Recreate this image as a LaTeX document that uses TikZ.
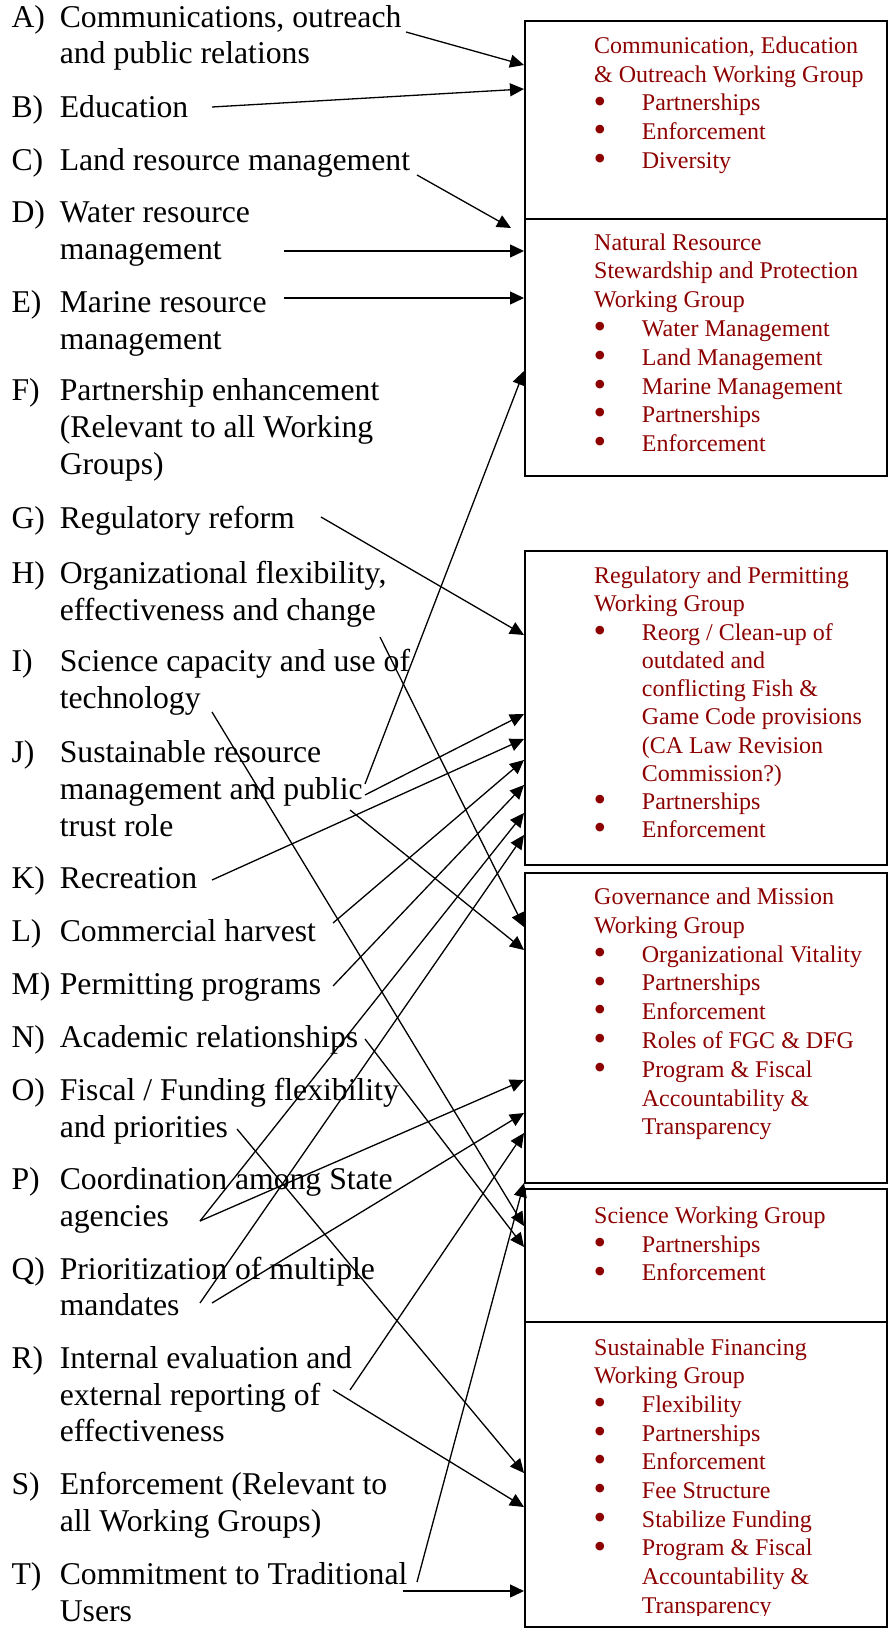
\documentclass[tikz,border=0pt]{standalone}
\usepackage{fontspec}
\setmainfont{Liberation Serif}
\usetikzlibrary{arrows.meta}
\definecolor{wgred}{RGB}{140,0,0}
\begin{document}
\begin{tikzpicture}[x=1pt,y=-1pt,
  item/.style={anchor=base west,inner sep=0pt,font=\fontsize{31.7}{36.7}\selectfont},
  wg/.style={anchor=base west,inner sep=0pt,text=wgred,font=\fontsize{24}{28.8}\selectfont},
  bul/.style={anchor=center,inner sep=0pt,text=wgred,font=\fontsize{36}{36}\selectfont,yshift=6pt},
  box/.style={draw,line width=2pt,anchor=north west,inner sep=0pt,outer sep=0pt,minimum width=362pt},
  conn/.style={line width=1.3pt,-{Triangle[length=14pt,width=13pt]}},
]
\useasboundingbox (0,0) rectangle (888,1635);

% ---------- boxes ----------
\node[box,minimum height=198pt] (b1) at (525,21) {};
\node[box,minimum height=257pt] (b2) at (525,219) {};
\node[box,minimum height=314pt] (b3) at (525,551) {};
\node[box,minimum height=310pt] (b4) at (525,873) {};
\node[box,minimum height=133pt] (b5) at (525,1189) {};
\node[box,minimum height=305pt] (b6) at (525,1322) {};

% ---------- left items ----------
\node[item] (lA) at (11.4,27.3) {A)};
\node[item] (tA1) at (59.6,27.3) {Communications, outreach};
\node[item] (tA2) at (59.6,64) {and public relations};
\node[item] (lB) at (11.4,117.3) {B)};
\node[item] (tB1) at (59.6,117.3) {Education};
\node[item] (lC) at (11.4,170.7) {C)};
\node[item] (tC1) at (59.6,170.7) {Land resource management};
\node[item] (lD) at (11.4,222.7) {D)};
\node[item] (tD1) at (59.6,222.7) {Water resource};
\node[item] (tD2) at (59.6,259.3) {management};
\node[item] (lE) at (11.4,312.3) {E)};
\node[item] (tE1) at (59.6,312.3) {Marine resource};
\node[item] (tE2) at (59.6,349) {management};
\node[item] (lF) at (11.4,400.7) {F)};
\node[item] (tF1) at (59.6,400.7) {Partnership enhancement};
\node[item] (tF2) at (59.6,437.3) {(Relevant to all Working};
\node[item] (tF3) at (59.6,474) {Groups)};
\node[item] (lG) at (11.4,528.3) {G)};
\node[item] (tG1) at (59.6,528.3) {Regulatory reform};
\node[item] (lH) at (11.4,583.7) {H)};
\node[item] (tH1) at (59.6,583.7) {Organizational flexibility,};
\node[item] (tH2) at (59.6,620.3) {effectiveness and change};
\node[item] (lI) at (11.4,671.7) {I)};
\node[item] (tI1) at (59.6,671.7) {Science capacity and use of};
\node[item] (tI2) at (59.6,708.3) {technology};
\node[item] (lJ) at (11.4,762.7) {J)};
\node[item] (tJ1) at (59.6,762.7) {Sustainable resource};
\node[item] (tJ2) at (59.6,799.3) {management and public};
\node[item] (tJ3) at (59.6,836) {trust role};
\node[item] (lK) at (11.4,888) {K)};
\node[item] (tK1) at (59.6,888) {Recreation};
\node[item] (lL) at (11.4,941.3) {L)};
\node[item] (tL1) at (59.6,941.3) {Commercial harvest};
\node[item] (lM) at (11.4,994.3) {M)};
\node[item] (tM1) at (59.6,994.3) {Permitting programs};
\node[item] (lN) at (11.4,1047.3) {N)};
\node[item] (tN1) at (59.6,1047.3) {Academic relationships};
\node[item] (lO) at (11.4,1100.3) {O)};
\node[item] (tO1) at (59.6,1100.3) {Fiscal / Funding flexibility};
\node[item] (tO2) at (59.6,1137) {and priorities};
\node[item] (lP) at (11.4,1189.3) {P)};
\node[item] (tP1) at (59.6,1189.3) {Coordination among State};
\node[item] (tP2) at (59.6,1226) {agencies};
\node[item] (lQ) at (11.4,1279) {Q)};
\node[item] (tQ1) at (59.6,1279) {Prioritization of multiple};
\node[item] (tQ2) at (59.6,1315.7) {mandates};
\node[item] (lR) at (11.4,1368.3) {R)};
\node[item] (tR1) at (59.6,1368.3) {Internal evaluation and};
\node[item] (tR2) at (59.6,1405) {external reporting of};
\node[item] (tR3) at (59.6,1441.7) {effectiveness};
\node[item] (lS) at (11.4,1494.7) {S)};
\node[item] (tS1) at (59.6,1494.7) {Enforcement (Relevant to};
\node[item] (tS2) at (59.6,1531.3) {all Working Groups)};
\node[item] (lT) at (11.4,1584.7) {T)};
\node[item] (tT1) at (59.6,1584.7) {Commitment to Traditional};
\node[item] (tT2) at (59.6,1621.3) {Users};

% ---------- box texts ----------
% box 1
\node[wg] (w1a) at (594,53.3) {Communication, Education};
\node[wg] (w1b) at (594,82.1) {\& Outreach Working Group};
\node[bul] (u1c) at (600,110.9) {•};
\node[wg] (w1c) at (641.7,110.9) {Partnerships};
\node[bul] (u1d) at (600,139.7) {•};
\node[wg] (w1d) at (641.7,139.7) {Enforcement};
\node[bul] (u1e) at (600,168.5) {•};
\node[wg] (w1e) at (641.7,168.5) {Diversity};
% box 2
\node[wg] (w2a) at (594,250) {Natural Resource};
\node[wg] (w2b) at (594,278.8) {Stewardship and Protection};
\node[wg] (w2c) at (594,307.6) {Working Group};
\node[bul] (u2d) at (600,336.4) {•};
\node[wg] (w2d) at (641.7,336.4) {Water Management};
\node[bul] (u2e) at (600,365.2) {•};
\node[wg] (w2e) at (641.7,365.2) {Land Management};
\node[bul] (u2f) at (600,394) {•};
\node[wg] (w2f) at (641.7,394) {Marine Management};
\node[bul] (u2g) at (600,422.8) {•};
\node[wg] (w2g) at (641.7,422.8) {Partnerships};
\node[bul] (u2h) at (600,451.6) {•};
\node[wg] (w2h) at (641.7,451.6) {Enforcement};
% box 3
\node[wg] (w3a) at (594,583.5) {Regulatory and Permitting};
\node[wg] (w3b) at (594,611.8) {Working Group};
\node[bul] (u3c) at (600,640) {•};
\node[wg] (w3c) at (641.7,640) {Reorg / Clean-up of};
\node[wg] (w3d) at (641.7,668.3) {outdated and};
\node[wg] (w3e) at (641.7,696.5) {conflicting Fish \&};
\node[wg] (w3f) at (641.7,724.8) {Game Code provisions};
\node[wg] (w3g) at (641.7,753) {(CA Law Revision};
\node[wg] (w3h) at (641.7,781.3) {Commission?)};
\node[bul] (u3i) at (600,809.5) {•};
\node[wg] (w3i) at (641.7,809.5) {Partnerships};
\node[bul] (u3j) at (600,837.8) {•};
\node[wg] (w3j) at (641.7,837.8) {Enforcement};
% box 4
\node[wg] (w4a) at (594,904.5) {Governance and Mission};
\node[wg] (w4b) at (594,933.3) {Working Group};
\node[bul] (u4c) at (600,962.1) {•};
\node[wg] (w4c) at (641.7,962.1) {Organizational Vitality};
\node[bul] (u4d) at (600,990.9) {•};
\node[wg] (w4d) at (641.7,990.9) {Partnerships};
\node[bul] (u4e) at (600,1019.7) {•};
\node[wg] (w4e) at (641.7,1019.7) {Enforcement};
\node[bul] (u4f) at (600,1048.5) {•};
\node[wg] (w4f) at (641.7,1048.5) {Roles of FGC \& DFG};
\node[bul] (u4g) at (600,1077.3) {•};
\node[wg] (w4g) at (641.7,1077.3) {Program \& Fiscal};
\node[wg] (w4h) at (641.7,1106.1) {Accountability \&};
\node[wg] (w4i) at (641.7,1134.9) {Transparency};
% box 5
\node[wg] (w5a) at (594,1223.3) {Science Working Group};
\node[bul] (u5b) at (600,1252.1) {•};
\node[wg] (w5b) at (641.7,1252.1) {Partnerships};
\node[bul] (u5c) at (600,1280.9) {•};
\node[wg] (w5c) at (641.7,1280.9) {Enforcement};
% box 6
\begin{scope}
\clip (526,1323) rectangle (886,1615);
\node[wg] (w6a) at (594,1355) {Sustainable Financing};
\node[wg] (w6b) at (594,1383.7) {Working Group};
\node[bul] (u6c) at (600,1412.4) {•};
\node[wg] (w6c) at (641.7,1412.4) {Flexibility};
\node[bul] (u6d) at (600,1441.1) {•};
\node[wg] (w6d) at (641.7,1441.1) {Partnerships};
\node[bul] (u6e) at (600,1469.8) {•};
\node[wg] (w6e) at (641.7,1469.8) {Enforcement};
\node[bul] (u6f) at (600,1498.5) {•};
\node[wg] (w6f) at (641.7,1498.5) {Fee Structure};
\node[bul] (u6g) at (600,1527.2) {•};
\node[wg] (w6g) at (641.7,1527.2) {Stabilize Funding};
\node[bul] (u6h) at (600,1555.9) {•};
\node[wg] (w6h) at (641.7,1555.9) {Program \& Fiscal};
\node[wg] (w6i) at (641.7,1584.6) {Accountability \&};
\node[wg] (w6j) at (641.7,1613.3) {Transparency};
\end{scope}

% ---------- connector end points ----------
\coordinate (sA) at (406,32);   \coordinate (eA) at (524,65);
\coordinate (sB) at (212,107);  \coordinate (eB) at (524,89);
\coordinate (sC) at (417,175);  \coordinate (eC) at (511,228);
\coordinate (sD) at (284,251);  \coordinate (eD) at (524,251);
\coordinate (sE) at (284,298);  \coordinate (eE) at (524,298);
\coordinate (sG) at (321,517);  \coordinate (eG) at (524,635);
\coordinate (sH) at (380,637);  \coordinate (eH) at (524,927);
\coordinate (sI) at (212,712);  \coordinate (eI) at (524,1226);
\coordinate (sJa) at (365,784); \coordinate (eJa) at (524,371);
\coordinate (sJb) at (365,795); \coordinate (eJb) at (524,714);
\coordinate (sJc) at (350,810); \coordinate (eJc) at (524,950);
\coordinate (sK) at (212,880);  \coordinate (eK) at (524,739);
\coordinate (sL) at (333,923);  \coordinate (eL) at (524,760);
\coordinate (sM) at (333,986);  \coordinate (eM) at (524,785);
\coordinate (sN) at (365,1039); \coordinate (eN) at (524,1247);
\coordinate (sO) at (237,1129); \coordinate (eO) at (524,1473);
\coordinate (sP) at (200,1221); \coordinate (ePa) at (524,813); \coordinate (ePb) at (524,1080);
\coordinate (sQa) at (200,1303); \coordinate (eQa) at (524,835);
\coordinate (sQb) at (212,1303); \coordinate (eQb) at (524,1113);
\coordinate (sRa) at (350,1390); \coordinate (eRa) at (524,1133);
\coordinate (sRb) at (333,1390); \coordinate (eRb) at (524,1507);
\coordinate (sTa) at (417,1582); \coordinate (eTa) at (524,1183);
\coordinate (sTb) at (403,1591); \coordinate (eTb) at (524,1591);

% ---------- connectors ----------
\draw[conn] (sA) -- (eA);
\draw[conn] (sB) -- (eB);
\draw[conn] (sC) -- (eC);
\draw[conn] (sD) -- (eD);
\draw[conn] (sE) -- (eE);
\draw[conn] (sG) -- (eG);
\draw[conn] (sH) -- (eH);
\draw[conn] (sI) -- (eI);
\draw[conn] (sJa) -- (eJa);
\draw[conn] (sJb) -- (eJb);
\draw[conn] (sJc) -- (eJc);
\draw[conn] (sK) -- (eK);
\draw[conn] (sL) -- (eL);
\draw[conn] (sM) -- (eM);
\draw[conn] (sN) -- (eN);
\draw[conn] (sO) -- (eO);
\draw[conn] (sP) -- (ePa);
\draw[conn] (sP) -- (ePb);
\draw[conn] (sQa) -- (eQa);
\draw[conn] (sQb) -- (eQb);
\draw[conn] (sRa) -- (eRa);
\draw[conn] (sRb) -- (eRb);
\draw[conn] (sTa) -- (eTa);
\draw[conn] (sTb) -- (eTb);
\end{tikzpicture}
\end{document}
